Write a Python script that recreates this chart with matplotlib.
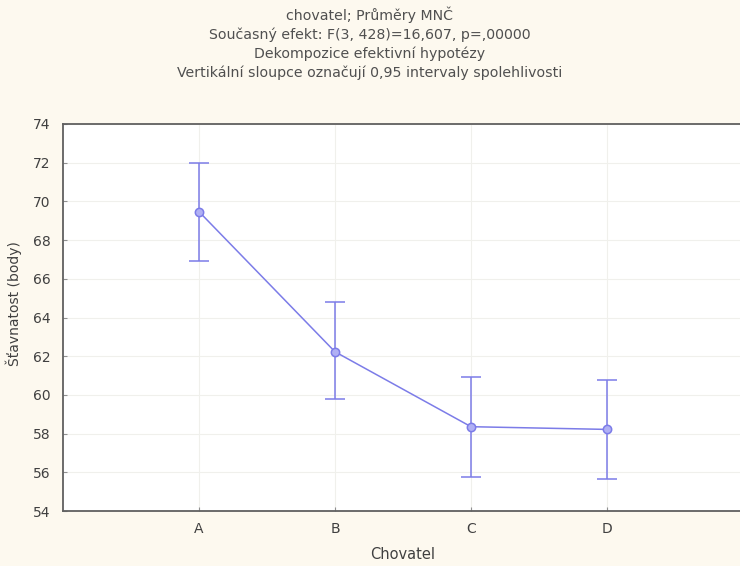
import numpy as np
import matplotlib.pyplot as plt

# Data
categories = ["A", "B", "C", "D"]
means = [69.47, 62.23, 58.36, 58.22]
lower = [66.94, 59.77, 55.77, 55.67]
upper = [72.0, 64.82, 60.93, 60.77]

title_lines = [
    "chovatel; Průměry MNČ",
    "Současný efekt: F(3, 428)=16,607, p=,00000",
    "Dekompozice efektivní hypotézy",
    "Vertikální sloupce označují 0,95 intervaly spolehlivosti",
]

plt.rcParams["font.family"] = ["DejaVu Sans"]

bg = "#fdf9ef"
blue = "#7c7ce8"
text_col = "#404040"

fig = plt.figure(figsize=(7.4, 5.66), dpi=100, facecolor=bg)
ax = fig.add_axes([0.0851, 0.097, 0.919, 0.684])
ax.set_facecolor("white")

x = np.arange(1, len(categories) + 1)
m = np.array(means)
yerr = [m - np.array(lower), np.array(upper) - m]

ax.errorbar(x, m, yerr=yerr, color=blue, lw=1.1, capsize=7, capthick=1.1,
            marker="o", ms=6, mfc="#b0b0f4", mec=blue, mew=1.1, zorder=3)

ax.set_xlim(0, 5)
ax.set_ylim(54, 74)
ax.set_yticks(np.arange(54, 75, 2))
ax.set_xticks(x)
ax.set_xticklabels(categories)
ax.grid(True, color="#f0f0ec", lw=0.8)
ax.set_axisbelow(True)

for side in ["left", "bottom", "top"]:
    ax.spines[side].set_color("#606060")
    ax.spines[side].set_linewidth(1.3)
ax.spines["right"].set_visible(False)

ax.tick_params(direction="in", length=3, colors="#909090", labelcolor=text_col,
               labelsize=10)
ax.tick_params(axis="y", pad=9)
ax.tick_params(axis="x", pad=8)

ax.set_xlabel("Chovatel", color=text_col, fontsize=10.5, labelpad=8)
ax.set_ylabel("Šťavnatost (body)", color=text_col, fontsize=10)
ax.yaxis.set_label_coords(-0.06, 0.537)

for i, line in enumerate(title_lines):
    fig.text(0.5, 1 - (15 + i * 19.3) / 566, line, ha="center", va="center",
             fontsize=10.2, color="#505050")

fig.savefig("out.png", dpi=100, facecolor=bg)
